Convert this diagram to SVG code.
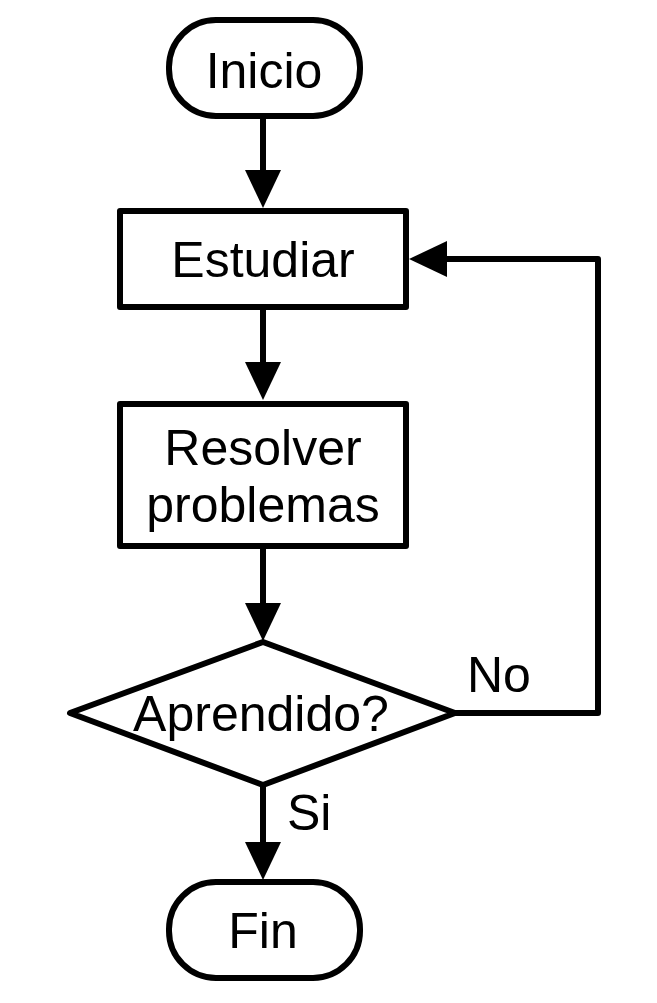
<svg xmlns="http://www.w3.org/2000/svg" width="657" height="1003" viewBox="0 0 657 1003">
<style>
.shape{fill:#fff;stroke:#000;stroke-width:6;stroke-linejoin:round}
.lbl{font-family:"Liberation Sans",Arial,sans-serif;font-size:50px;fill:#000;text-anchor:middle}
.edge{fill:none;stroke:#000;stroke-width:6;stroke-linejoin:round}
.elbl{font-family:"Liberation Sans",Arial,sans-serif;font-size:50px;fill:#000}
</style>
<defs>
<marker id="arr" markerUnits="userSpaceOnUse" markerWidth="40" markerHeight="38" refX="28" refY="18" orient="auto">
<path d="M0,0 L38,18 L0,36 Z" fill="#000"/>
</marker>
</defs>
<rect width="657" height="1003" fill="#fff"/>
<g id="connectors">
<path class="edge" d="M263,116 V198" marker-end="url(#arr)"/>
<path class="edge" d="M263,307 V390" marker-end="url(#arr)"/>
<path class="edge" d="M263,546 V631" marker-end="url(#arr)"/>
<path class="edge" d="M263,785 V870" marker-end="url(#arr)"/>
<path class="edge" d="M455,713 H598 V259 H419" marker-end="url(#arr)"/>
<text class="elbl" x="467" y="692">No</text>
<text class="elbl" x="287" y="830">Si</text>
</g>
<g id="inicio">
<rect class="shape" x="169" y="20" width="191" height="96" rx="47"/>
<text class="lbl" x="264" y="88">Inicio</text>
</g>
<g id="estudiar">
<rect class="shape" x="120" y="211" width="286" height="96"/>
<text class="lbl" x="263" y="277">Estudiar</text>
</g>
<g id="resolver">
<rect class="shape" x="120" y="404" width="286" height="142"/>
<text class="lbl" x="263" y="465">Resolver</text>
<text class="lbl" x="263" y="522">problemas</text>
</g>
<g id="aprendido">
<polygon class="shape" points="263,642 455,713 263,785 70,713"/>
<text class="lbl" x="261" y="731">Aprendido?</text>
</g>
<g id="fin">
<rect class="shape" x="169" y="882" width="191" height="96" rx="47"/>
<text class="lbl" x="263" y="948">Fin</text>
</g>
</svg>
